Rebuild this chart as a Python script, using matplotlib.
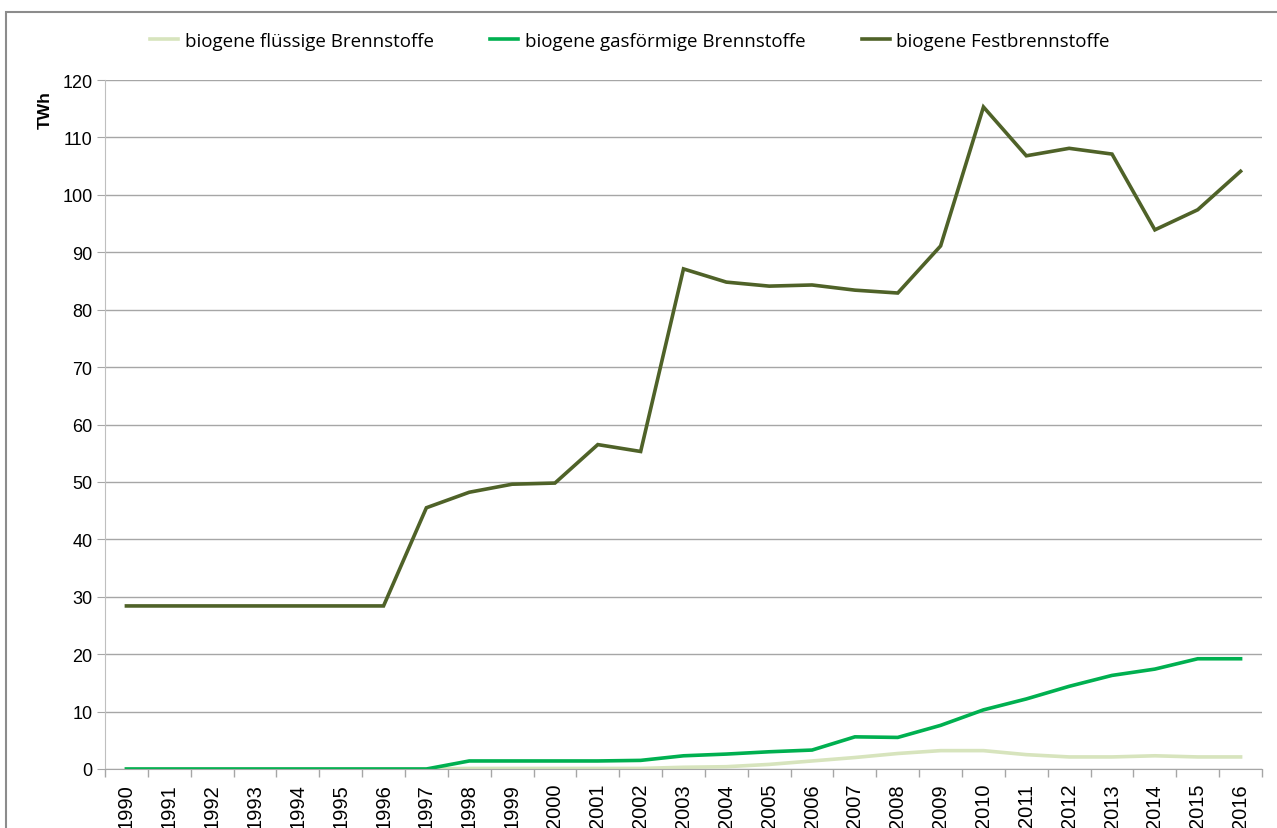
import matplotlib.pyplot as plt
from matplotlib.patches import Rectangle

years = [str(y) for y in range(1990, 2017)]

fluessig = [0, 0, 0, 0, 0, 0, 0, 0, 0.1, 0.1, 0.1, 0.1, 0.1, 0.3, 0.4, 0.8, 1.4,
            2.0, 2.7, 3.2, 3.2, 2.5, 2.1, 2.1, 2.3, 2.1, 2.1]
gasfoermig = [0, 0, 0, 0, 0, 0, 0, 0, 1.4, 1.4, 1.4, 1.4, 1.5, 2.3, 2.6, 3.0, 3.3,
              5.6, 5.5, 7.6, 10.3, 12.2, 14.4, 16.3, 17.4, 19.2, 19.2]
fest = [28.4, 28.4, 28.4, 28.4, 28.4, 28.4, 28.4, 45.5, 48.2, 49.6, 49.8, 56.5, 55.3,
        87.1, 84.8, 84.1, 84.3, 83.4, 82.9, 91.1, 115.3, 106.8, 108.1, 107.1, 93.9,
        97.4, 104.1]

labels = ["biogene flüssige Brennstoffe", "biogene gasförmige Brennstoffe",
          "biogene Festbrennstoffe"]
colors = ["#d7e4bd", "#00b050", "#4f6228"]

plt.rcParams['font.family'] = ['Liberation Sans', 'DejaVu Sans']

fig = plt.figure(figsize=(12.77, 8.29), dpi=100)
ax = fig.add_axes([105 / 1277, 59 / 829, 1157 / 1277, 689 / 829])

x = list(range(len(years)))
for vals, lab, col in zip([fluessig, gasfoermig, fest], labels, colors):
    ax.plot(x, vals, color=col, lw=2.6, label=lab, solid_joinstyle='miter')

ax.set_xlim(-0.5, len(years) - 0.5)
ax.set_ylim(0, 120)
ax.set_yticks(range(0, 121, 10))
ax.set_xticks(x)
ax.set_xticklabels(years, rotation=90, fontsize=14.5)
ax.set_xticks([i - 0.5 for i in range(len(years) + 1)], minor=True)
ax.tick_params(axis='x', which='major', length=0, pad=10)
ax.tick_params(axis='x', which='minor', length=6, color='#a6a6a6', width=1)
ax.tick_params(axis='y', length=6, color='#a6a6a6', labelsize=13, pad=3)
ax.grid(axis='y', color='#a6a6a6', lw=1)
ax.set_axisbelow(True)
for s in ['top', 'right']:
    ax.spines[s].set_visible(False)
ax.spines['left'].set_color('#bfbfbf')
ax.spines['bottom'].set_color('#a6a6a6')

fig.text(45 / 1277, 1 - 110 / 829, "TWh", rotation=90, fontsize=12.5,
         fontweight='bold', ha='center', va='center')

fig.legend(loc='center', bbox_to_anchor=(630 / 1277, 1 - 42 / 829), ncol=3,
           frameon=False, handlelength=1.5, handletextpad=0.35,
           columnspacing=3.0, prop={'family': 'Open Sans', 'size': 13.5})

fig.patches.append(Rectangle((6 / 1277, -0.1), 1.2, 1 - 13 / 829 + 0.1,
                             transform=fig.transFigure, fill=False,
                             edgecolor='#8c8c8c', lw=1.5))

fig.savefig("out.png", dpi=100)
